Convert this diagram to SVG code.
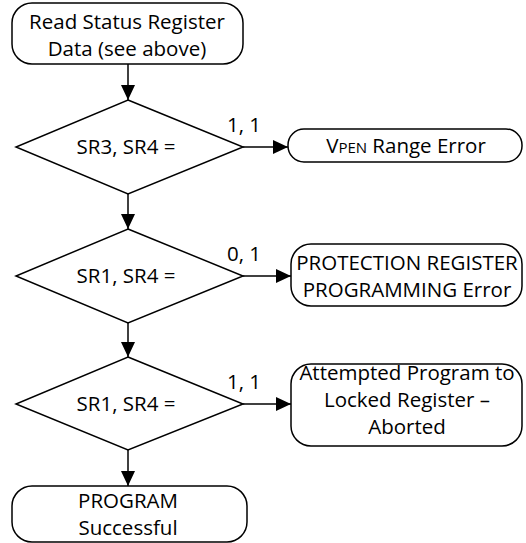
<svg xmlns="http://www.w3.org/2000/svg" width="526" height="543" viewBox="0 0 526 543">
<style>
text{font-family:"Open Sans","Noto Sans",sans-serif;font-size:20.5px;fill:#000;text-anchor:middle}
.n{fill:#fff;stroke:#000;stroke-width:1.5}
.c{fill:none;stroke:#000;stroke-width:1.5}
.sm{font-size:15px}
</style>
<defs>
<marker id="ah" markerWidth="15" markerHeight="14" refX="15" refY="7" orient="auto" markerUnits="userSpaceOnUse">
<path d="M0,0 L15,7 L0,14 Z" fill="#000"/>
</marker>
</defs>
<g id="connectors">
<line class="c" x1="128" y1="64" x2="128" y2="100" marker-end="url(#ah)"/>
<line class="c" x1="128" y1="194" x2="128" y2="229" marker-end="url(#ah)"/>
<line class="c" x1="128" y1="323" x2="128" y2="357" marker-end="url(#ah)"/>
<line class="c" x1="128" y1="450" x2="128" y2="486" marker-end="url(#ah)"/>
<line class="c" x1="243" y1="147" x2="288" y2="147" marker-end="url(#ah)"/>
<line class="c" x1="243" y1="276" x2="291" y2="276" marker-end="url(#ah)"/>
<line class="c" x1="243" y1="404" x2="291" y2="404" marker-end="url(#ah)"/>
<text x="244" y="132">1, 1</text>
<text x="244" y="261">0, 1</text>
<text x="244" y="389">1, 1</text>
</g>
<g id="start">
<rect class="n" x="12" y="3" width="231" height="61" rx="20"/>
<text x="127" y="29">Read Status Register</text>
<text x="127" y="56">Data (see above)</text>
</g>
<g id="d1">
<polygon class="n" points="128,100 243,147 128,194 16,147"/>
<text x="126" y="154">SR3, SR4 =</text>
</g>
<g id="e1">
<rect class="n" x="288" y="129" width="234" height="33" rx="16"/>
<text x="406" y="153">V<tspan class="sm">PEN</tspan> Range Error</text>
</g>
<g id="d2">
<polygon class="n" points="128,229 243,276 128,323 16,276"/>
<text x="126" y="283">SR1, SR4 =</text>
</g>
<g id="e2">
<rect class="n" x="291" y="244" width="231" height="62" rx="20"/>
<text x="407" y="270">PROTECTION REGISTER</text>
<text x="407" y="297">PROGRAMMING Error</text>
</g>
<g id="d3">
<polygon class="n" points="128,357 243,404 128,450 16,404"/>
<text x="126" y="411">SR1, SR4 =</text>
</g>
<g id="e3">
<rect class="n" x="291" y="364" width="231" height="82" rx="20"/>
<text x="407" y="380">Attempted Program to</text>
<text x="407" y="407">Locked Register –</text>
<text x="407" y="434">Aborted</text>
</g>
<g id="end">
<rect class="n" x="12" y="486" width="235" height="56" rx="20"/>
<text x="128" y="508">PROGRAM</text>
<text x="128" y="535">Successful</text>
</g>
</svg>
